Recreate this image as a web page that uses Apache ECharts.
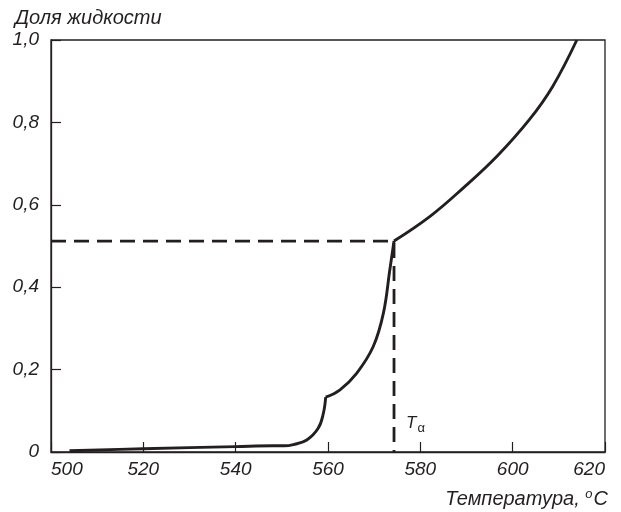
<!DOCTYPE html>
<html>
<head>
<meta charset="utf-8">
<script src="https://cdn.jsdelivr.net/npm/echarts@6/dist/echarts.min.js"></script>
<style>html,body{margin:0;padding:0;background:#fff}#c{width:621px;height:512px}</style>
</head>
<body>
<div id="c"></div>
<script>
var xTicks = [500, 520, 540, 560, 580, 600, 620];
var yTicks = ['0', '0,2', '0,4', '0,6', '0,8', '1,0'];
var segLow = [[504,0.003],[520,0.008],[540,0.013],[548,0.015],[550.5,0.015],[552.5,0.018],[555.4,0.029],[557.9,0.058],[559,0.094],[559.5,0.133]];
var segMid = [[559.5,0.133],[562.6,0.151],[566.2,0.191],[569.8,0.256],[572,0.337],[573.4,0.443],[574.3,0.512]];
var segHigh = [[574.3,0.512],[582.1,0.572],[589.2,0.640],[596.6,0.718],[603.7,0.808],[608.7,0.888],[613.9,1.0]];
var tAlpha = 574.3;
var fAlpha = 0.512;
var guide = [[500, fAlpha],[tAlpha, fAlpha],[tAlpha, 0]];

var ink = '#231f20';
var fontFam = '"Liberation Sans", Arial, sans-serif';
var chart = echarts.init(document.getElementById('c'), null, {renderer:'canvas'});
function curve(d){
  return {type:'line', data:d, smooth:0.4, showSymbol:false, symbol:'none',
    lineStyle:{color:ink, width:2.9}, z:3, silent:true, animation:false};
}
var texts = function(p){
  var g = [
    {type:'text', left:15, top:8, style:{text:'Доля жидкости', fill:ink, font:'italic 20px ' + fontFam}},
    {type:'text', right:13, top:488, style:{
      text:'Температура, {sup|o}C', fill:ink, font:'italic 20px ' + fontFam,
      rich:{sup:{fontSize:13, fontStyle:'italic', fontFamily:fontFam, fill:ink, verticalAlign:'top', padding:[0,1,9,0]}}
    }}
  ];
  if (p) g.push({type:'text', x:p[0]+12, y:p[1]-40, style:{
      text:'T{sub|α}', fill:ink, font:'italic 17px ' + fontFam,
      rich:{sub:{fontSize:13, fontStyle:'normal', fontFamily:fontFam, fill:ink, padding:[10,0,0,1]}}
  }});
  return g;
};
chart.setOption({
  animation:false,
  grid:{left:51, right:16, top:40, bottom:60, show:true, borderColor:ink, borderWidth:1.3, backgroundColor:'transparent'},
  xAxis:{type:'value', min:xTicks[0], max:xTicks[xTicks.length-1], interval:20,
    axisLine:{show:true, lineStyle:{color:ink, width:1.3}},
    axisTick:{show:true, inside:true, length:10, lineStyle:{color:ink, width:1.2}},
    splitLine:{show:false},
    axisLabel:{color:ink, fontSize:19, fontStyle:'italic', fontFamily:fontFam, margin:8,
      alignMinLabel:'left', alignMaxLabel:'right', showMinLabel:true, showMaxLabel:true,
      formatter:function(v){return String(v);}}
  },
  yAxis:{type:'value', min:0, max:1, interval:0.2,
    axisLine:{show:true, lineStyle:{color:ink, width:1.3}},
    axisTick:{show:true, inside:true, length:10, lineStyle:{color:ink, width:1.2}},
    splitLine:{show:false},
    axisLabel:{color:ink, fontSize:19, fontStyle:'italic', fontFamily:fontFam, margin:12,
      formatter:function(v){return yTicks[Math.round(v/0.2)];}}
  },
  series:[
    curve(segLow), curve(segMid), curve(segHigh),
    {type:'line', data:guide, showSymbol:false, symbol:'none', smooth:false,
      lineStyle:{color:ink, width:2.8, type:[15,8]}, z:2, silent:true}
  ],
  graphic:texts(null)
});
var p = chart.convertToPixel({gridIndex:0}, [tAlpha, 0]);
chart.setOption({graphic:texts(p)}, {replaceMerge:['graphic']});
</script>
</body>
</html>
